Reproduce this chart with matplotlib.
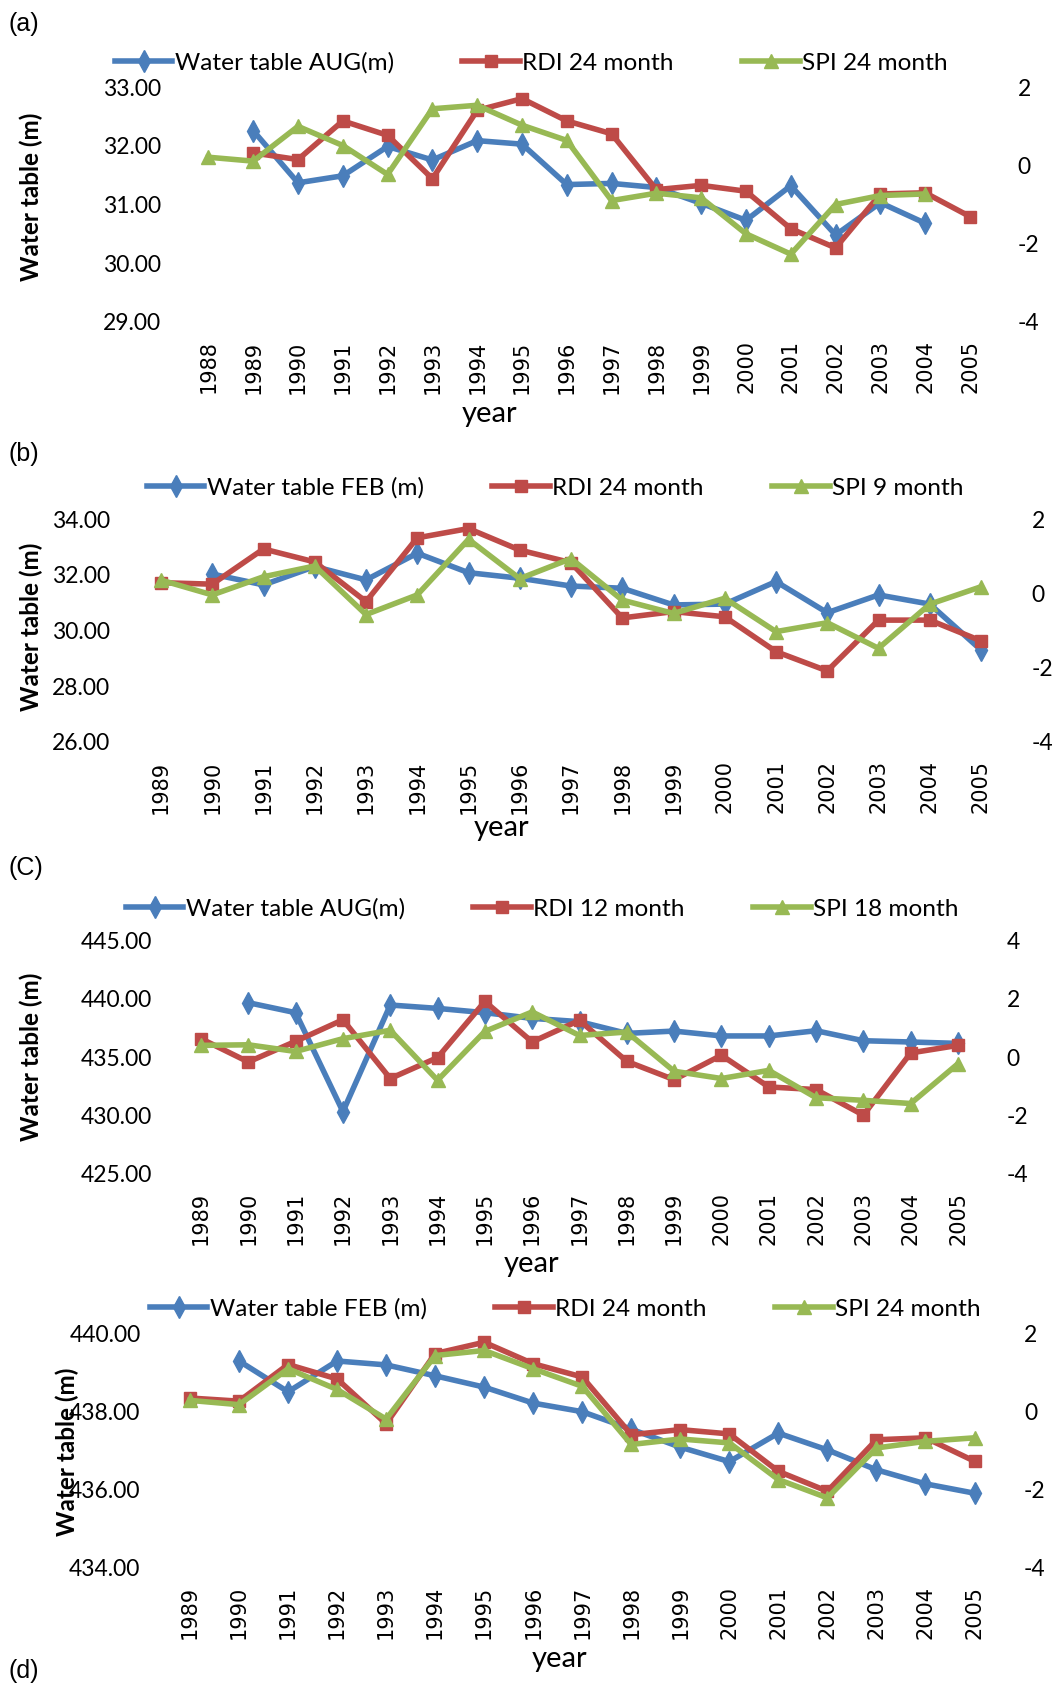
import numpy as np
import matplotlib
matplotlib.use("Agg")
import matplotlib.pyplot as plt

nan = np.nan

# ---------------- data ----------------
years_a = [str(y) for y in range(1988, 2006)]
wt_a = [nan, 32.26, 31.37, 31.49, 31.99, 31.76, 32.09, 32.03, 31.34, 31.36, 31.29, 31.02, 30.73, 31.32, 30.48, 31.03, 30.68, nan]
rdi_a = [nan, 0.32, 0.15, 1.14, 0.77, -0.34, 1.41, 1.71, 1.14, 0.81, -0.62, -0.51, -0.66, -1.62, -2.11, -0.73, -0.70, -1.31]
spi_a = [0.21, 0.11, 1.00, 0.51, -0.23, 1.45, 1.54, 1.03, 0.64, -0.90, -0.71, -0.83, -1.75, -2.27, -1.00, -0.77, -0.73, nan]
names_a = ["Water table AUG(m)", "RDI 24 month", "SPI 24 month"]
yticks_left_a = [29, 30, 31, 32, 33]

years_b = [str(y) for y in range(1989, 2006)]
wt_b = [nan, 32.03, 31.64, 32.30, 31.82, 32.78, 32.08, 31.88, 31.60, 31.52, 30.92, 30.95, 31.76, 30.64, 31.28, 30.95, 29.30]
rdi_b = [0.29, 0.25, 1.20, 0.85, -0.22, 1.50, 1.75, 1.17, 0.83, -0.66, -0.49, -0.63, -1.57, -2.09, -0.72, -0.72, -1.28]
spi_b = [0.36, -0.04, 0.45, 0.74, -0.57, -0.04, 1.46, 0.40, 0.94, -0.18, -0.54, -0.13, -1.03, -0.79, -1.48, -0.29, 0.18]
names_b = ["Water table FEB (m)", "RDI 24 month", "SPI 9 month"]
yticks_left_b = [26, 28, 30, 32, 34]

years_c = [str(y) for y in range(1989, 2006)]
wt_c = [nan, 439.67, 438.81, 430.30, 439.47, 439.18, 438.81, 438.32, 438.04, 437.03, 437.23, 436.81, 436.81, 437.26, 436.40, 436.29, 436.17]
rdi_c = [0.63, -0.17, 0.54, 1.28, -0.74, -0.02, 1.91, 0.52, 1.26, -0.15, -0.78, 0.06, -1.03, -1.12, -2.00, 0.14, 0.40]
spi_c = [0.40, 0.42, 0.19, 0.63, 0.92, -0.80, 0.88, 1.55, 0.74, 0.86, -0.49, -0.74, -0.46, -1.40, -1.49, -1.60, -0.23]
names_c = ["Water table AUG(m)", "RDI 12 month", "SPI 18 month"]
yticks_left_c = [425, 430, 435, 440, 445]

years_d = [str(y) for y in range(1989, 2006)]
wt_d = [nan, 439.29, 438.50, 439.29, 439.19, 438.91, 438.62, 438.21, 437.99, 437.54, 437.08, 436.71, 437.44, 437.01, 436.50, 436.14, 435.90]
rdi_d = [0.34, 0.26, 1.20, 0.83, -0.32, 1.48, 1.77, 1.22, 0.88, -0.60, -0.47, -0.58, -1.54, -2.05, -0.73, -0.68, -1.28]
spi_d = [0.28, 0.17, 1.09, 0.56, -0.20, 1.43, 1.56, 1.09, 0.64, -0.85, -0.71, -0.81, -1.75, -2.22, -0.94, -0.77, -0.68]
names_d = ["Water table FEB (m)", "RDI 24 month", "SPI 24 month"]
yticks_left_d = [434, 436, 438, 440]

yticks_right_a = [-4, -2, 0, 2]
yticks_right_b = [-4, -2, 0, 2]
yticks_right_c = [-4, -2, 0, 2, 4]
yticks_right_d = [-4, -2, 0, 2]

panel_labels = ["(a)", "(b)", "(C)", "(d)"]

# ---------------- style ----------------
W, H = 1055, 1684
BLUE, RED, GREEN = "#4A7EBB", "#BE4B48", "#98B954"
LW = 4.0
TXT = "Lato"
TICK_FS = 16.5
LEG_FS = 17.6
YEAR_FS = 15

fig = plt.figure(figsize=(W / 100, H / 100), dpi=100)


def panel(cats, wt, rdi, spi, names, ytl, ytr, x_first, x_last, y_top, y_bot,
          leg_x, leg_y, ylab_x, ylab_y, xlab_x, xlab_y, plab_y, plab):
    n = len(cats)
    step = (x_last - x_first) / (n - 1)
    left = x_first - step / 2
    width = n * step
    ax = fig.add_axes([left / W, 1 - y_bot / H, width / W, (y_bot - y_top) / H])
    ax2 = ax.twinx()
    x = np.arange(n)
    l1, = ax.plot(x, wt, color=BLUE, lw=LW, marker="d", ms=11, clip_on=False,
                  solid_joinstyle="round")
    l2, = ax2.plot(x, rdi, color=RED, lw=LW, marker="s", ms=8.5, clip_on=False,
                   solid_joinstyle="round")
    l3, = ax2.plot(x, spi, color=GREEN, lw=LW, marker="^", ms=10, clip_on=False,
                   solid_joinstyle="round")
    ax.set_xlim(-0.5, n - 0.5)
    ax.set_ylim(ytl[0], ytl[-1])
    ax2.set_ylim(ytr[0], ytr[-1])
    ax.set_xticks(x)
    ax.set_xticklabels(cats, rotation=90, fontfamily="DejaVu Sans", fontsize=YEAR_FS)
    ax.set_yticks(ytl)
    ax.set_yticklabels([f"{v:.2f}" for v in ytl], fontfamily=TXT, fontsize=TICK_FS)
    ax2.set_yticks(ytr)
    ax2.set_yticklabels([f"{v:d}" for v in ytr], fontfamily=TXT, fontsize=TICK_FS)
    ax.tick_params(axis="x", length=0, pad=13.5)
    ax.tick_params(axis="y", length=0, pad=18)
    ax2.tick_params(axis="y", length=0, pad=18)
    for a in (ax, ax2):
        for s in a.spines.values():
            s.set_visible(False)
        a.patch.set_visible(False)
    fig.legend([l1, l2, l3], names, loc="center left",
               bbox_to_anchor=(leg_x / W, 1 - leg_y / H), ncol=3, frameon=False,
               prop={"family": TXT, "size": LEG_FS}, handlelength=2.35,
               handletextpad=0.1, columnspacing=2.8, borderpad=0, borderaxespad=0,
               numpoints=1)
    fig.text(ylab_x / W, 1 - ylab_y / H, "Water table (m)", rotation=90,
             ha="center", va="center", fontfamily=TXT, fontweight="bold", fontsize=17.5)
    fig.text(xlab_x / W, 1 - xlab_y / H, "year", ha="center", va="center",
             fontfamily=TXT, fontsize=21)
    fig.text(9 / W, 1 - plab_y / H, plab, ha="left", va="center",
             fontfamily="Liberation Sans", fontsize=18)


panel(years_a, wt_a, rdi_a, spi_a, names_a, yticks_left_a, yticks_right_a,
      208.4, 970, 87.3, 321.7, 115, 63, 31, 197, 490, 414, 24, panel_labels[0])
panel(years_b, wt_b, rdi_b, spi_b, names_b, yticks_left_b, yticks_right_b,
      161, 981, 519.3, 741.7, 147, 488, 31, 627, 502, 828, 454, panel_labels[1])
panel(years_c, wt_c, rdi_c, spi_c, names_c, yticks_left_c, yticks_right_c,
      201, 958, 940.7, 1173.3, 126, 909, 31, 1057, 532, 1264, 868, panel_labels[2])
panel(years_d, wt_d, rdi_d, spi_d, names_d, yticks_left_d, yticks_right_d,
      190, 974.5, 1333.3, 1567.3, 150, 1309, 67, 1452, 559, 1659, 1671, panel_labels[3])

fig.savefig("out.png", dpi=100)
